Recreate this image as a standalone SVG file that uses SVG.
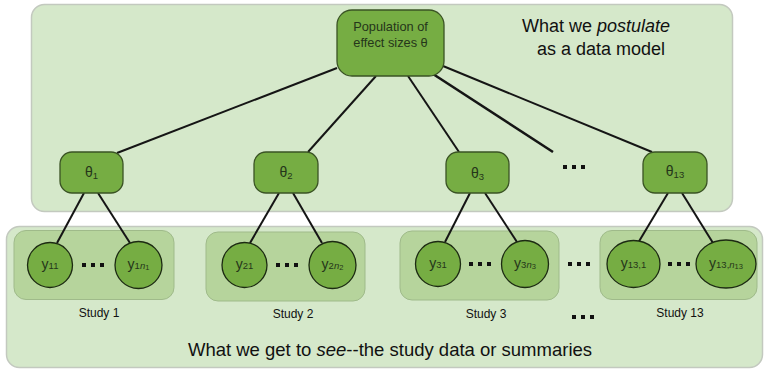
<svg xmlns="http://www.w3.org/2000/svg" width="766" height="369" viewBox="0 0 766 369">
  <style>
    .panel { fill: #d5e8ca; stroke: #c3c9bf; stroke-width: 1.5; }
    .study { fill: #b6d49c; stroke: #9fba8a; stroke-width: 1; }
    .node { fill: #76ad43; stroke: #3a5324; stroke-width: 1.3; }
    .obs { fill: #76ad43; stroke: #1c2a12; stroke-width: 1.3; }
    .edge { stroke: #151515; stroke-width: 2; fill: none; }
    .ntext { font-family: "Liberation Sans", Arial, sans-serif; fill: #25361a; text-anchor: middle; }
    .label { font-family: "Liberation Sans", Arial, sans-serif; fill: #111; text-anchor: middle; }
    .dot { fill: #111; }
  </style>
  <defs>
    <g id="dots3">
      <rect class="dot" x="0" y="-2" width="4" height="4"/>
      <rect class="dot" x="9" y="-2" width="4" height="4"/>
      <rect class="dot" x="18" y="-2" width="4" height="4"/>
    </g>
  </defs>

  <!-- background panels -->
  <rect id="model-panel" class="panel" x="31.5" y="4.5" width="701" height="207" rx="13"/>
  <rect id="data-panel" class="panel" x="6.5" y="226.5" width="756" height="141" rx="13"/>

  <!-- study groupings -->
  <rect id="study1-box" class="study" x="14" y="230.5" width="160" height="69" rx="12"/>
  <rect id="study2-box" class="study" x="206" y="232" width="159" height="69" rx="12"/>
  <rect id="study3-box" class="study" x="400" y="231" width="159" height="69" rx="12"/>
  <rect id="study13-box" class="study" x="600" y="230.5" width="157" height="69" rx="12"/>

  <!-- connectors -->
  <g id="edges">
    <line class="edge" x1="337" y1="68" x2="117" y2="153"/>
    <line class="edge" x1="376" y1="76" x2="308" y2="152"/>
    <line class="edge" x1="408" y1="76" x2="459" y2="152"/>
    <line class="edge" x1="433" y1="74" x2="553" y2="152" style="stroke-width:2.6"/>
    <line class="edge" x1="443" y1="66" x2="652" y2="152"/>

    <line class="edge" x1="84" y1="193" x2="57" y2="243"/>
    <line class="edge" x1="98" y1="193" x2="130" y2="243"/>
    <line class="edge" x1="279" y1="193" x2="250" y2="243"/>
    <line class="edge" x1="293" y1="193" x2="322" y2="243"/>
    <line class="edge" x1="470" y1="193" x2="445" y2="242"/>
    <line class="edge" x1="485" y1="193" x2="517" y2="242"/>
    <line class="edge" x1="668" y1="193" x2="638" y2="243"/>
    <line class="edge" x1="682" y1="193" x2="713" y2="243"/>
  </g>

  <!-- population node -->
  <g id="population">
    <rect class="node" x="337" y="10" width="107" height="66" rx="15"/>
    <text class="ntext" x="390.5" y="31" font-size="12.8">Population of</text>
    <text class="ntext" x="390.5" y="47" font-size="12.8">effect sizes θ</text>
  </g>

  <!-- study-level effects -->
  <g id="theta1">
    <rect class="node" x="60" y="152" width="63" height="41" rx="12"/>
    <text class="ntext" x="91.5" y="177" font-size="14">θ<tspan font-size="9.5" dy="2">1</tspan></text>
  </g>
  <g id="theta2">
    <rect class="node" x="254" y="152" width="64" height="41" rx="12"/>
    <text class="ntext" x="286" y="177" font-size="14">θ<tspan font-size="9.5" dy="2">2</tspan></text>
  </g>
  <g id="theta3">
    <rect class="node" x="446" y="152" width="63" height="41" rx="12"/>
    <text class="ntext" x="477.5" y="178" font-size="14">θ<tspan font-size="9.5" dy="2">3</tspan></text>
  </g>
  <g id="theta13">
    <rect class="node" x="643" y="152" width="64" height="41" rx="12"/>
    <text class="ntext" x="675" y="176" font-size="14">θ<tspan font-size="9.5" dy="2">13</tspan></text>
  </g>
  <use href="#dots3" x="563" y="167"/>

  <!-- observations -->
  <g id="y11">
    <circle class="obs" cx="50" cy="265" r="22.5"/>
    <text class="ntext" x="50" y="269" font-size="14">y<tspan font-size="9.5">11</tspan></text>
  </g>
  <use href="#dots3" x="82" y="265"/>
  <g id="y1n1">
    <circle class="obs" cx="138.5" cy="265" r="23.5"/>
    <text class="ntext" x="138.5" y="269" font-size="14">y<tspan font-size="9.5">1<tspan font-style="italic">n</tspan><tspan font-size="7.5" dy="1">1</tspan></tspan></text>
  </g>

  <g id="y21">
    <circle class="obs" cx="244.5" cy="265" r="22.5"/>
    <text class="ntext" x="244.5" y="269" font-size="14">y<tspan font-size="9.5">21</tspan></text>
  </g>
  <use href="#dots3" x="276" y="265"/>
  <g id="y2n2">
    <circle class="obs" cx="332.5" cy="265" r="23.5"/>
    <text class="ntext" x="332.5" y="269" font-size="14">y<tspan font-size="9.5">2<tspan font-style="italic">n</tspan><tspan font-size="7.5" dy="1">2</tspan></tspan></text>
  </g>

  <g id="y31">
    <circle class="obs" cx="438" cy="264" r="22.5"/>
    <text class="ntext" x="438" y="268" font-size="14">y<tspan font-size="9.5">31</tspan></text>
  </g>
  <use href="#dots3" x="469" y="264"/>
  <g id="y3n3">
    <circle class="obs" cx="525" cy="264" r="23.5"/>
    <text class="ntext" x="525" y="268" font-size="14">y<tspan font-size="9.5">3<tspan font-style="italic">n</tspan><tspan font-size="7.5" dy="1">3</tspan></tspan></text>
  </g>
  <use href="#dots3" x="568" y="264"/>

  <g id="y13-1">
    <ellipse class="obs" cx="633.5" cy="264" rx="26.5" ry="23.5"/>
    <text class="ntext" x="633.5" y="268" font-size="14">y<tspan font-size="9.5">13,1</tspan></text>
  </g>
  <use href="#dots3" x="668" y="264"/>
  <g id="y13-n13">
    <ellipse class="obs" cx="726" cy="264" rx="30" ry="24"/>
    <text class="ntext" x="726" y="268" font-size="14">y<tspan font-size="9.5">13,<tspan font-style="italic">n</tspan><tspan font-size="7.5" dy="1">13</tspan></tspan></text>
  </g>

  <!-- study captions -->
  <text class="label" x="99" y="317" font-size="12">Study 1</text>
  <text class="label" x="293" y="318" font-size="12">Study 2</text>
  <text class="label" x="486" y="318" font-size="12">Study 3</text>
  <text class="label" x="680" y="317" font-size="12">Study 13</text>
  <use href="#dots3" x="572" y="317"/>

  <!-- panel captions -->
  <text class="label" x="596" y="32" font-size="18">What we <tspan font-style="italic">postulate</tspan></text>
  <text class="label" x="601" y="55" font-size="18">as a data model</text>
  <text class="label" x="390" y="356" font-size="18.5">What we get to <tspan font-style="italic">see</tspan>--the study data or summaries</text>
</svg>
